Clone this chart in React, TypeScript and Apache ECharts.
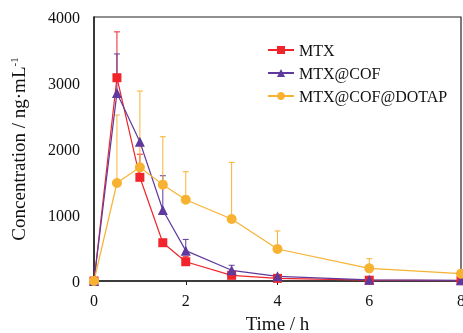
import React, { useEffect, useRef } from "react";
import * as echarts from "echarts";

const times = [0, 0.5, 1, 1.5, 2, 3, 4, 6, 8];
const mtx = [0, 3080, 1571, 580, 292, 86, 40, 12, 6];
const mtxErr = [0, 695, 350, 0, 76, 0, 0, 0, 0];
const cof = [0, 2850, 2110, 1075, 460, 162, 71, 18, 10];
const cofErr = [0, 590, 0, 520, 170, 76, 0, 0, 0];
const dotap = [0, 1485, 1722, 1460, 1232, 939, 485, 192, 111];
const dotapErr = [0, 1030, 1156, 726, 424, 859, 273, 146, 0];
const seriesNames = ["MTX", "MTX@COF", "MTX@COF@DOTAP"];
const xTicks = [0, 2, 4, 6, 8];
const yTicks = [0, 1000, 2000, 3000, 4000];

const RED = "#f0242a";
const PURPLE = "#5f3a9e";
const ORANGE = "#f7b232";
const FONT = "'Liberation Serif', 'Times New Roman', serif";

function errSeries(vals: number[], errs: number[], color: string) {
  const data = times
    .map((t, i) => [t, vals[i], vals[i] + errs[i]])
    .filter((d, i) => errs[i] > 0);
  return {
    type: "custom",
    silent: true,
    z: 1,
    clip: false,
    data,
    renderItem: (params: any, api: any) => {
      const x = api.value(0);
      const p0 = api.coord([x, api.value(1)]);
      const p1 = api.coord([x, api.value(2)]);
      const w = 3;
      return {
        type: "group",
        children: [
          {
            type: "line",
            shape: { x1: p0[0], y1: p0[1], x2: p1[0], y2: p1[1] },
            style: { stroke: color, lineWidth: 1 },
          },
          {
            type: "line",
            shape: { x1: p1[0] - w, y1: p1[1], x2: p1[0] + w, y2: p1[1] },
            style: { stroke: color, lineWidth: 1 },
          },
        ],
      };
    },
  };
}

export default function App() {
  const ref = useRef<HTMLDivElement>(null);
  useEffect(() => {
    if (!ref.current) return;
    const chart = echarts.init(ref.current, null, { renderer: "svg" });
    const mk = (name: string, vals: number[], color: string, symbol: string, size: number) => ({
      name,
      type: "line",
      z: 3,
      clip: false,
      data: times.map((t, i) => [t, vals[i]]),
      symbol,
      symbolSize: size,
      showAllSymbol: true,
      lineStyle: { color, width: 1.2 },
      itemStyle: { color },
    });
    chart.setOption({
      animation: false,
      textStyle: { fontFamily: FONT },
      grid: {
        left: 94, right: 2, top: 17, bottom: 52,
        show: true, borderColor: "#222", borderWidth: 1.2,
        containLabel: false, outerBoundsMode: "none",
      },
      legend: {
        orient: "vertical",
        left: 262,
        top: 37,
        itemWidth: 26,
        itemHeight: 10,
        itemGap: 7,
        data: seriesNames,
        textStyle: { fontFamily: FONT, fontSize: 16, color: "#111" },
      },
      xAxis: {
        type: "value",
        min: 0,
        max: 8,
        interval: 2,
        name: "Time / h",
        nameLocation: "middle",
        nameGap: 33,
        nameMoveOverlap: false,
        nameTextStyle: { fontFamily: FONT, fontSize: 19, lineHeight: 18, color: "#111" },
        axisLine: { lineStyle: { color: "#222", width: 1.5 } },
        axisTick: { show: true, length: 4, lineStyle: { color: "#222" } },
        axisLabel: { fontFamily: FONT, fontSize: 16, color: "#111", margin: 11, formatter: (v: number) => (xTicks.includes(v) ? String(v) : "") },
        splitLine: { show: false },
      },
      yAxis: {
        type: "value",
        min: 0,
        max: 4000,
        interval: 1000,
        name: "Concentration / ng·mL{sup|-1}",
        nameLocation: "middle",
        nameGap: 66,
        nameMoveOverlap: false,
        nameTextStyle: {
          fontFamily: FONT,
          fontSize: 19,
          color: "#111",
          rich: { sup: { fontFamily: FONT, fontSize: 11, color: "#111", verticalAlign: "top", padding: [0, 0, 9, 0] } },
        },
        axisLine: { show: true, lineStyle: { color: "#222", width: 1.5 } },
        axisTick: { show: false },
        axisLabel: { fontFamily: FONT, fontSize: 16, color: "#111", margin: 14, formatter: (v: number) => (yTicks.includes(v) ? String(v) : "") },
        splitLine: { show: false },
      },
      series: [
        errSeries(mtx, mtxErr, RED),
        errSeries(cof, cofErr, PURPLE),
        errSeries(dotap, dotapErr, ORANGE),
        mk("MTX", mtx, RED, "rect", 9),
        mk("MTX@COF", cof, PURPLE, "triangle", 10),
        mk("MTX@COF@DOTAP", dotap, ORANGE, "circle", 10),
      ],
    });
    return () => chart.dispose();
  }, []);
  return <div ref={ref} style={{ position: "fixed", left: 0, top: 0, width: 463, height: 333 }} />;
}
